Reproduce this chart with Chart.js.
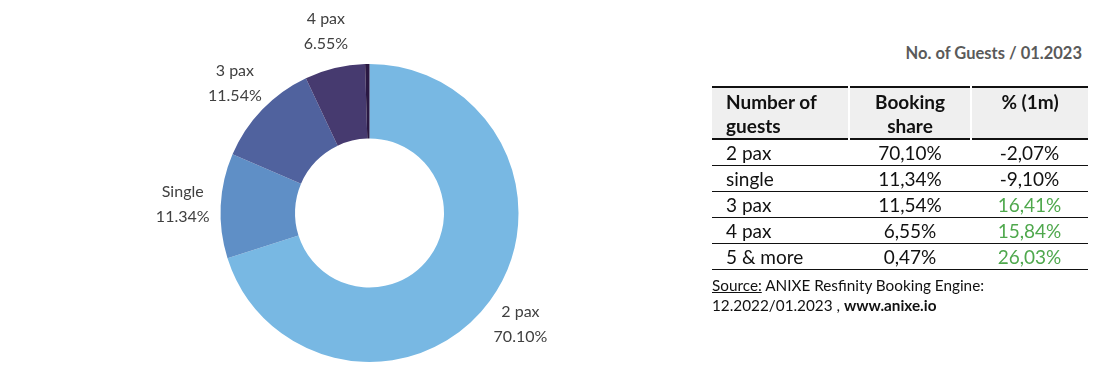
<!DOCTYPE html>
<html>
<head>
<meta charset="utf-8">
<script src="https://cdn.jsdelivr.net/npm/chart.js@4/dist/chart.umd.min.js"></script>
<style>
  html, body { margin: 0; padding: 0; background: #fff; }
  body { width: 1100px; height: 381px; position: relative; overflow: hidden; font-family: Lato, "Open Sans", sans-serif; }
  #chartBox { position: absolute; left: 0; top: 0; width: 739px; height: 381px; }
  #title { position: absolute; right: 18px; top: 43px; font-size: 16.5px; font-weight: bold; color: #5a5a5a; }
  #tbl { position: absolute; left: 712px; top: 86px; width: 376px; border-collapse: collapse; font-size: 19px; color: #111; }
  #tbl th { background: #efefef; font-weight: bold; vertical-align: top; padding: 2px 0 0 0; line-height: 24px; height: 48px; border-left: 2px solid #fff; }
  #tbl th:first-child { border-left: none; text-align: left; padding-left: 14px; }
  #tbl thead tr { border-top: 2px solid #111; border-bottom: 2px solid #111; }
  #tbl td { height: 25px; padding: 0; line-height: 25px; text-align: center; border-bottom: 1.5px solid #111; }
  #tbl td:first-child { text-align: left; padding-left: 14px; }
  #tbl td.pos { color: #4fa84d; }
  #source { position: absolute; left: 712px; top: 275px; font-size: 15.3px; line-height: 20px; color: #111; }
  #source u { text-decoration: underline; }
</style>
</head>
<body>
<div id="chartBox"><canvas id="c"></canvas></div>
<div id="title"></div>
<table id="tbl"><thead><tr id="hdr"></tr></thead><tbody id="tb"></tbody></table>
<div id="source"><u>Source:</u> ANIXE Resfinity Booking Engine:<br>12.2022/01.2023 , <b>www.anixe.io</b></div>
<script>
// ---- data ----
const categories = ["2 pax", "Single", "3 pax", "4 pax", "5 & more"];
const shares = [70.10, 11.34, 11.54, 6.55, 0.47];
const sliceLabels = ["70.10%", "11.34%", "11.54%", "6.55%", ""];
const sliceColors = ["#78b8e3", "#5f8fc6", "#50629e", "#463a6f", "#2a1842"];

const tableTitle = "No. of Guests / 01.2023";
const tableHeaders = ["Number of<br>guests", "Booking<br>share", "% (1m)"];
const tableGuests = ["2 pax", "single", "3 pax", "4 pax", "5 & more"];
const tableShares = ["70,10%", "11,34%", "11,54%", "6,55%", "0,47%"];
const tableChange = ["-2,07%", "-9,10%", "16,41%", "15,84%", "26,03%"];

// ---- table ----
document.getElementById('title').textContent = tableTitle;
const hdr = document.getElementById('hdr');
tableHeaders.forEach(h => { const th = document.createElement('th'); th.innerHTML = h; hdr.appendChild(th); });
const tb = document.getElementById('tb');
tableGuests.forEach((g, i) => {
  const tr = document.createElement('tr');
  const c = tableChange[i];
  tr.innerHTML = '<td>' + g + '</td><td>' + tableShares[i] + '</td><td class="' + (c.startsWith('-') ? '' : 'pos') + '">' + c + '</td>';
  tb.appendChild(tr);
});
document.querySelectorAll('#tbl th')[0].style.width = '122px';
document.querySelectorAll('#tbl th')[1].style.width = '120px';

// ---- outside labels plugin ----
const outsideLabels = {
  id: 'outsideLabels',
  afterDatasetsDraw(chart) {
    const ctx = chart.ctx;
    const meta = chart.getDatasetMeta(0);
    ctx.save();
    ctx.font = '16px Lato, "Open Sans", sans-serif';
    ctx.fillStyle = '#404040';
    ctx.textAlign = 'center';
    ctx.textBaseline = 'middle';
    meta.data.forEach((arc, i) => {
      if (!sliceLabels[i]) return;
      const p = arc.getProps(['x', 'y', 'startAngle', 'endAngle', 'outerRadius']);
      const a = (p.startAngle + p.endAngle) / 2;
      const r = p.outerRadius + 38;
      const x = p.x + Math.cos(a) * r;
      const y = p.y + Math.sin(a) * r;
      ctx.fillText(categories[i], x, y - 12);
      ctx.fillText(sliceLabels[i], x, y + 13);
    });
    ctx.restore();
  }
};

new Chart(document.getElementById('c'), {
  type: 'doughnut',
  data: {
    labels: categories,
    datasets: [{ data: shares, backgroundColor: sliceColors, borderWidth: 0, hoverOffset: 0 }]
  },
  options: {
    responsive: true,
    maintainAspectRatio: false,
    animation: false,
    cutout: '50%',
    layout: { padding: { top: 64, bottom: 19, left: 0, right: 0 } },
    plugins: { legend: { display: false }, tooltip: { enabled: false } }
  },
  plugins: [outsideLabels]
});
</script>
</body>
</html>
